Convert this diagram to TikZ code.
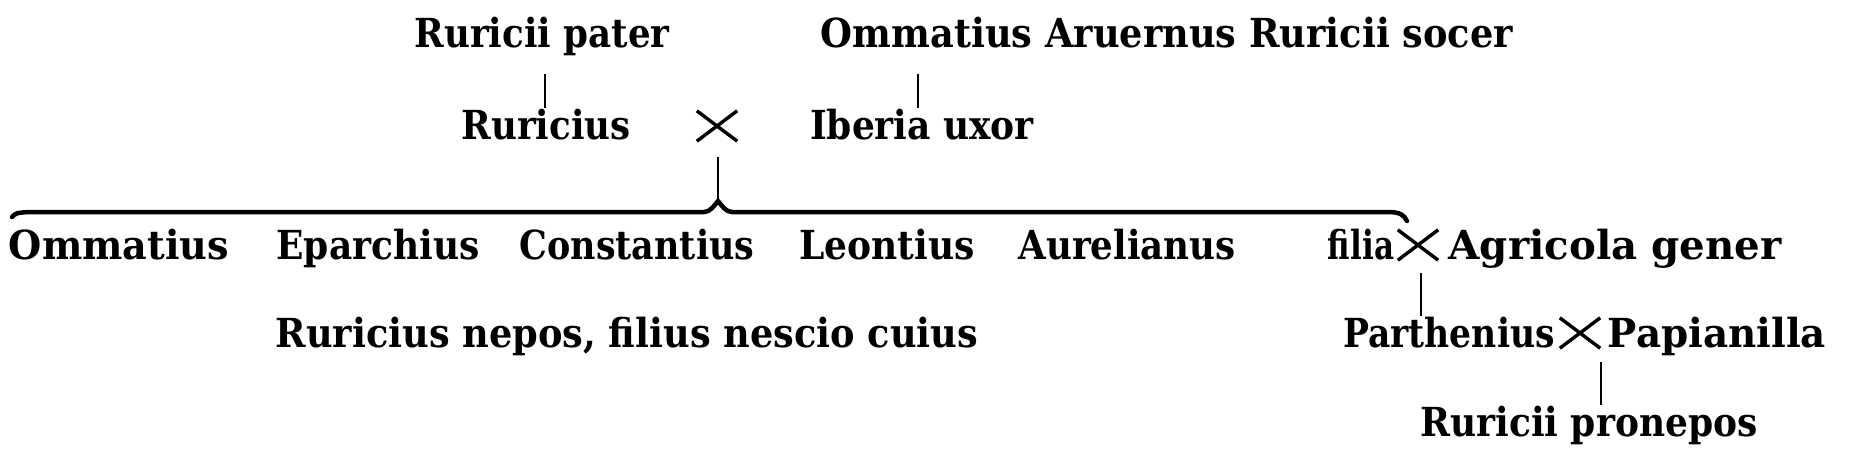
\documentclass[tikz,border=0pt]{standalone}
\usepackage{fontspec}
\setmainfont{DejaVu Serif Condensed}
\usetikzlibrary{calc}
\newcommand{\sx}[2]{\scalebox{#1}[1]{#2}}
\begin{document}
\begin{tikzpicture}[x=1pt,y=-1pt,
  nm/.style={anchor=base,inner sep=0pt,font=\fontsize{40}{45}\selectfont\bfseries},
  marr/.style={minimum width=40pt,minimum height=30pt,inner sep=0pt},
  cross/.style={line width=3.4pt},
  conn/.style={line width=2pt},
  brace/.style={line width=4.5pt,line cap=round}]
\useasboundingbox (0,0) rectangle (1862,472);
% row 1
\node[nm] (pater) at (542,47) {\sx{0.99}{Ruricii pater}};
\node[nm] (socer) at (1167,47) {\sx{1.02}{Ommatius Aruernus Ruricii socer}};
% row 2
\node[nm] (ruricius) at (546,139) {\sx{0.99}{Ruricius}};
\node[marr] (m1) at (717,126) {};
\node[nm] (iberia) at (922,139) {Iberia uxor};
% row 3
\node[nm] (c1) at (119,259) {\sx{1.06}{Ommatius}};
\node[nm] (c2) at (378,259) {Eparchius};
\node[nm] (c3) at (637,259) {\sx{0.97}{Constantius}};
\node[nm] (c4) at (887,259) {Leontius};
\node[nm] (c5) at (1127,259) {\sx{0.99}{Aurelianus}};
\node[nm] (filia) at (1361,259) {\sx{0.86}{filia}};
\node[marr] (m2) at (1418,245) {};
\node[nm] (agricola) at (1615,259) {\sx{1.12}{Agricola gener}};
% row 4
\node[nm] (nepos) at (627,347) {\sx{1.02}{Ruricius nepos, filius nescio cuius}};
\node[nm] (parth) at (1449,347) {\sx{0.96}{Parthenius}};
\node[marr] (m3) at (1580,333) {};
\node[nm] (papi) at (1717,347) {\sx{1.08}{Papianilla}};
% row 5
\node[nm] (pron) at (1589,436) {Ruricii pronepos};
% marriage crosses
\foreach \m in {m1,m2,m3}
  \draw[cross] (\m.north west) -- (\m.south east) (\m.south west) -- (\m.north east);
% connectors
\coordinate (a1) at (545,74);
\coordinate (a2) at (918,74);
\draw[conn] (a1) -- (a1 |- ruricius.north);
\draw[conn] (a2) -- (a2 |- iberia.north);
\coordinate (peak) at (718,201);
\coordinate (d1) at (718,157);
\draw[conn] (d1) -- (peak);
\coordinate (bl) at (12,217);
\coordinate (br) at (1407,221);
\draw[brace] (bl) .. controls (16,213) .. (28,212) -- (704,212)
  .. controls (710,212) and (714,206) .. (peak)
  .. controls (722,206) and (726,212) .. (732,212) -- (1388,212)
  .. controls (1400,212) and (1404,215) .. (br);
\coordinate (d2) at (1421,273);
\draw[conn] (d2) -- (d2 |- parth.north);
\coordinate (d3) at (1601,362);
\draw[conn] (d3) -- (d3 |- pron.north);
\end{tikzpicture}
\end{document}
